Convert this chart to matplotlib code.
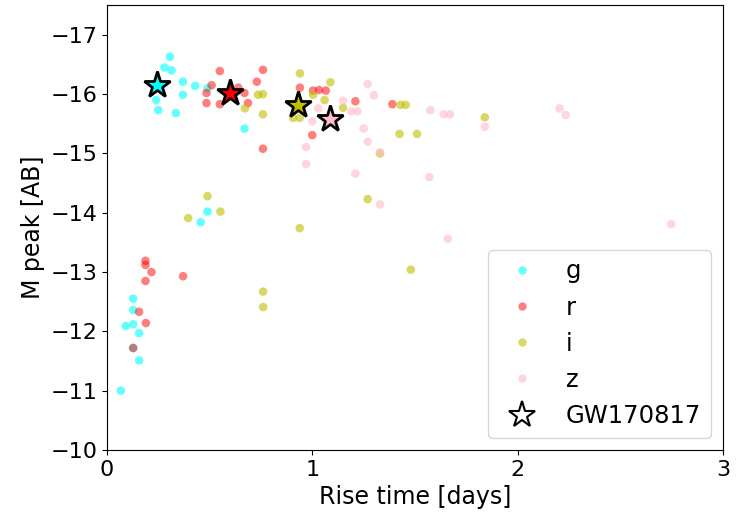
import matplotlib.pyplot as plt
from matplotlib.lines import Line2D

# rise time [days] and peak absolute magnitude per band
g_t = [0.307, 0.28, 0.315, 0.37, 0.43, 0.37, 0.24, 0.25, 0.336, 0.67, 0.49,
       0.49, 0.457, 0.128, 0.128, 0.092, 0.128, 0.157, 0.128, 0.157, 0.068]
g_m = [-16.63, -16.45, -16.40, -16.21, -16.14, -15.99, -15.90, -15.73, -15.68, -15.42, -16.10,
       -14.02, -13.84, -12.55, -12.36, -12.09, -12.12, -11.97, -11.72, -11.51, -11.00]

r_t = [0.55, 0.76, 0.73, 0.51, 0.485, 0.485, 0.55, 0.67, 0.687, 0.64, 0.76, 0.94, 1.004,
       1.033, 1.066, 1.0, 1.21, 1.39, 0.188, 0.188, 0.217, 0.188, 0.371, 0.157, 0.19, 0.128]
r_m = [-16.39, -16.41, -16.21, -16.15, -16.02, -15.85, -15.83, -16.02, -15.85, -16.11, -15.08, -16.11, -16.06,
       -16.07, -16.06, -15.31, -15.88, -15.83, -13.19, -13.12, -13.0, -12.85, -12.93, -12.33, -12.14, -11.72]

i_t = [0.94, 1.088, 0.736, 0.76, 0.672, 0.76, 1.004, 0.907, 0.939, 1.06, 1.15, 1.43, 1.455,
       1.84, 1.425, 1.51, 1.33, 0.49, 0.553, 0.396, 0.939, 0.761, 0.761, 1.27, 1.48]
i_m = [-16.35, -16.20, -15.99, -16.0, -15.76, -15.66, -15.99, -15.60, -15.60, -15.90, -15.77, -15.82, -15.82,
       -15.61, -15.33, -15.33, -15.0, -14.28, -14.02, -13.91, -13.74, -12.67, -12.41, -14.23, -13.04]

z_t = [1.27, 1.30, 1.15, 1.19, 1.22, 1.03, 1.0, 1.25, 1.27, 0.97, 0.97, 1.21, 1.57, 1.33,
       1.66, 1.575, 1.64, 1.67, 1.84, 2.204, 2.234, 2.748, 1.33]
z_m = [-16.17, -15.98, -15.89, -15.71, -15.71, -15.76, -15.54, -15.42, -15.2, -15.11, -14.82, -14.66, -14.60, -14.14,
       -13.56, -15.73, -15.66, -15.66, -15.45, -15.76, -15.65, -13.81, -15.02]

# GW170817 in g, r, i, z
gw_t = [0.245, 0.60, 0.93, 1.085]
gw_m = [-16.15, -16.02, -15.82, -15.58]

bands = ['g', 'r', 'i', 'z']
colors = ['cyan', 'red', 'y', 'pink']
alphas = [0.6, 0.5, 0.6, 0.65]

fig = plt.figure(figsize=(7.37, 5.22), dpi=100)
ax = fig.add_axes([0.145, 0.138, 0.836, 0.852])

for t, m, c, a in zip([g_t, r_t, i_t, z_t], [g_m, r_m, i_m, z_m], colors, alphas):
    ax.scatter(t, m, s=38, color=c, alpha=a, edgecolors='none')

for t, m, c in zip(gw_t, gw_m, colors):
    ax.plot(t, m, marker='*', markersize=20, markerfacecolor=c,
            markeredgecolor='black', markeredgewidth=2, linestyle='none')

ax.set_xlim(0, 3)
ax.set_ylim(-10, -17.5)
ax.set_xticks([0, 1, 2, 3])
ax.set_yticks(range(-17, -9))
ax.tick_params(labelsize=16)
ax.set_xlabel('Rise time [days]', fontsize=17)
ax.set_ylabel('M peak [AB]', fontsize=17)

handles = [Line2D([], [], marker='o', linestyle='none', markersize=6,
                  markerfacecolor=c, markeredgecolor='none', alpha=a)
           for c, a in zip(colors, alphas)]
handles.append(Line2D([], [], marker='*', linestyle='none', markersize=20,
                      markerfacecolor='white', markeredgecolor='black', markeredgewidth=1.5))
ax.legend(handles, bands + ['GW170817'], loc='lower right', fontsize=17.5)

fig.savefig('out.png')
